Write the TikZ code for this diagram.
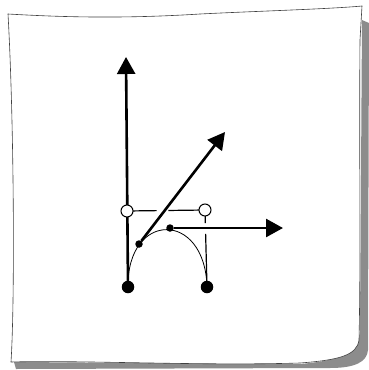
\documentclass[tikz,border=0pt]{standalone}
\usepackage{tikz}
\usetikzlibrary{arrows.meta, calc}
\tikzset{
  paper/.style={fill=white, draw=black!75, line width=.6pt},
  shade/.style={fill=black!45, draw=none},
  enddot/.style={circle, fill=black, inner sep=0pt, minimum size=12.5pt},
  ctrldot/.style={circle, draw=black, fill=white, line width=1pt,
    inner sep=0pt, minimum size=12pt},
  middot/.style={circle, fill=black, inner sep=0pt, minimum size=7.5pt},
  hull/.style={draw=black, line width=1.2pt},
  curve/.style={draw=black, line width=.8pt},
  vec/.style={-{Triangle[length=17pt, width=18pt]}, draw=black,
    line width=2.6pt},
}
\begin{document}
\begin{tikzpicture}[x=1pt, y=-1pt]
    \fill[white] (0,0) rectangle (369,370);
    \useasboundingbox (0,0) rectangle (369,370);

    \path[shade] (362,20) -- (369,23) -- (368,350)
      .. controls (367,362) and (355,368) .. (330,368) -- (16,369)
      -- (14,362) -- (300,364)
      .. controls (345,360) and (358,352) .. (360,330) -- cycle;
    \path[paper] (8,14) .. controls (60,17) and (120,19) .. (200,14)
      .. controls (260,11) and (330,9) .. (362,6)
      -- (360,40) .. controls (359,150) and (361,250) .. (359,340)
      .. controls (357,355) and (340,360) .. (300,363)
      .. controls (200,366) and (80,360) .. (11,362)
      .. controls (15,300) and (14,120) .. (8,14) -- cycle;

    \coordinate (start) at (128,287);
    \coordinate (ctrla) at (127,211);
    \coordinate (ctrlb) at (205,210);
    \coordinate (stop)  at (207,287);
    \coordinate (tipup)    at (126,57);
    \coordinate (tipdiag)  at (225,132);
    \coordinate (tipright) at (283,228);

    \draw[curve] (start) .. controls (ctrla) and (ctrlb) .. (stop);
    \draw[hull] (ctrla) -- ($(ctrla)!.38!(ctrlb)$);
    \draw[hull] ($(ctrla)!.53!(ctrlb)$) -- (ctrlb);
    \draw[hull] (ctrlb) -- ($(ctrlb)!.17!(stop)$);
    \draw[hull] ($(ctrlb)!.31!(stop)$) -- (stop);

    \node[middot] (quarter) at (139,244) {};
    \node[middot] (half)    at (170,228) {};

    \draw[vec] (start)   -- (tipup);
    \draw[vec] (quarter) -- (tipdiag);
    \draw[vec] (half)    -- (tipright);

    \node[enddot]  (p0) at (start) {};
    \node[ctrldot] (p1) at (ctrla) {};
    \node[ctrldot] (p2) at (ctrlb) {};
    \node[enddot]  (p3) at (stop)  {};
  \end{tikzpicture}
\end{document}
